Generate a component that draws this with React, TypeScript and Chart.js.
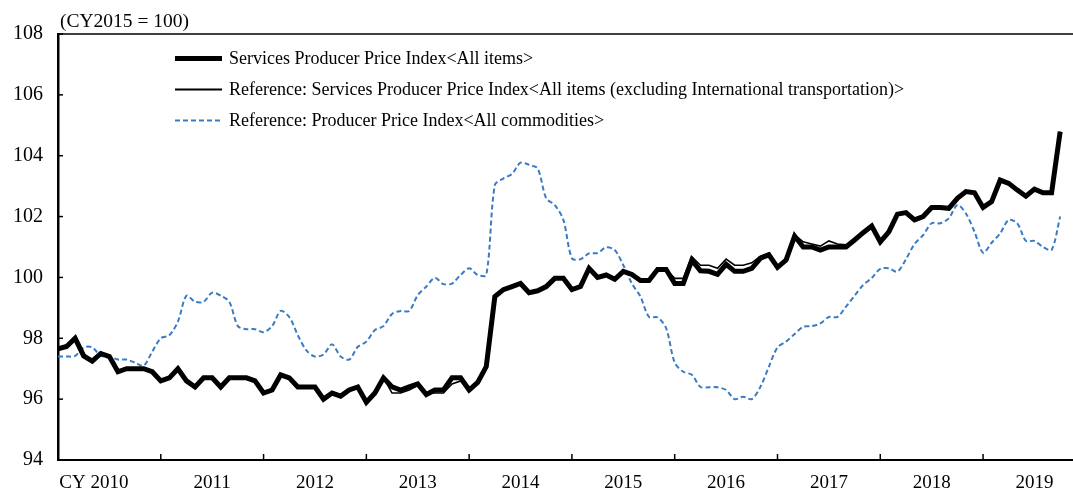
import React, { useEffect, useRef } from "react";
import { Chart, registerables } from "chart.js";

Chart.register(...registerables);

// Monthly data, Jan 2010 .. Oct 2019 (index 0 = Jan 2010)
const sppiAll: number[] = [
  97.65, 97.73, 98.0, 97.42, 97.25, 97.5, 97.4, 96.9, 97.0, 97.0, 97.0, 96.9,
  96.6, 96.7, 97.0, 96.6, 96.4, 96.7, 96.7, 96.4, 96.7, 96.7, 96.7, 96.6,
  96.2, 96.3, 96.8, 96.7, 96.4, 96.4, 96.4, 96.0, 96.2, 96.1, 96.3, 96.4,
  95.9, 96.2, 96.7, 96.4, 96.3, 96.4, 96.5, 96.15, 96.3, 96.3, 96.7, 96.7,
  96.3, 96.55, 97.07, 99.37, 99.6, 99.7, 99.8, 99.5, 99.56, 99.7, 99.97, 99.97,
  99.6, 99.7, 100.3, 100.0, 100.08, 99.94, 100.2, 100.1, 99.9, 99.9, 100.26, 100.26,
  99.8, 99.8, 100.57, 100.22, 100.2, 100.1, 100.43, 100.2, 100.2, 100.3, 100.63, 100.74,
  100.33, 100.57, 101.36, 101.0, 101.0, 100.9, 101.0, 101.0, 101.0, 101.23, 101.47, 101.69,
  101.17, 101.5, 102.08, 102.13, 101.89, 102.0, 102.3, 102.3, 102.27, 102.6, 102.82, 102.78,
  102.3, 102.49, 103.2, 103.09, 102.87, 102.67, 102.9, 102.78, 102.78, 104.79,
];

const sppiExIntl: number[] = [
  97.65, 97.73, 98.0, 97.42, 97.25, 97.5, 97.4, 96.9, 97.0, 97.0, 97.0, 96.9,
  96.6, 96.7, 97.0, 96.6, 96.4, 96.7, 96.7, 96.4, 96.7, 96.7, 96.7, 96.6,
  96.25, 96.3, 96.75, 96.65, 96.4, 96.4, 96.4, 96.0, 96.2, 96.1, 96.3, 96.4,
  95.9, 96.2, 96.7, 96.2, 96.2, 96.3, 96.45, 96.2, 96.2, 96.2, 96.5, 96.6,
  96.3, 96.55, 97.07, 99.37, 99.6, 99.7, 99.8, 99.5, 99.56, 99.7, 99.97, 99.97,
  99.6, 99.7, 100.3, 100.0, 100.08, 99.94, 100.2, 100.1, 99.9, 99.9, 100.26, 100.26,
  99.97, 99.97, 100.68, 100.4, 100.4, 100.3, 100.6, 100.4, 100.4, 100.48, 100.7, 100.8,
  100.37, 100.6, 101.4, 101.17, 101.1, 101.03, 101.2, 101.1, 101.07, 101.25, 101.47, 101.69,
  101.17, 101.5, 102.08, 102.13, 101.89, 102.0, 102.3, 102.3, 102.27, 102.6, 102.82, 102.78,
  102.3, 102.49, 103.2, 103.09, 102.87, 102.67, 102.9, 102.78, 102.78, 104.79,
];

const ppiAll: number[] = [
  97.4, 97.4, 97.42, 97.7, 97.7, 97.42, 97.4, 97.3, 97.3, 97.2, 97.1, 97.56,
  98.0, 98.1, 98.55, 99.4, 99.2, 99.2, 99.5, 99.4, 99.2, 98.4, 98.3, 98.3,
  98.2, 98.4, 98.9, 98.7, 98.1, 97.6, 97.4, 97.47, 97.8, 97.4, 97.3, 97.72,
  97.89, 98.27, 98.4, 98.8, 98.9, 98.9, 99.42, 99.7, 99.99, 99.78, 99.8, 100.08,
  100.3, 100.08, 100.08, 103.04, 103.25, 103.4, 103.77, 103.7, 103.58, 102.6, 102.38, 101.89,
  100.63, 100.6, 100.79, 100.8, 100.99, 100.9, 100.4, 99.8, 99.37, 98.7, 98.69, 98.33,
  97.2, 96.9, 96.8, 96.4, 96.39, 96.39, 96.3, 96.0, 96.08, 96.0, 96.4, 97.07,
  97.7, 97.89, 98.14, 98.38, 98.4, 98.49, 98.7, 98.7, 99.04, 99.4, 99.75, 99.98,
  100.28, 100.3, 100.19, 100.6, 101.1, 101.39, 101.78, 101.78, 101.94, 102.38, 102.1, 101.5,
  100.81, 101.14, 101.45, 101.89, 101.78, 101.2, 101.2, 101.0, 100.9, 102.0,
];

const yearLabels: string[] = ["CY 2010", "2011", "2012", "2013", "2014", "2015", "2016", "2017", "2018", "2019"];
const yTicks: number[] = [94, 96, 98, 100, 102, 104, 106, 108];
const seriesNames: string[] = [
  "Services Producer Price Index<All items>",
  "Reference: Services Producer Price Index<All items (excluding International transportation)>",
  "Reference: Producer Price Index<All commodities>",
];
const unitLabel = "(CY2015 = 100)";

const FONT = '"Liberation Serif", "Times New Roman", serif';
const BLUE = "#3a7cc3";

const toPoints = (arr: number[]) => arr.map((v, i) => ({ x: i, y: v }));

const decorPlugin = {
  id: "decor",
  afterDraw(chart: any) {
    const { ctx, chartArea, scales } = chart;
    const xs = scales.x;
    const ys = scales.y;
    ctx.save();
    // top border
    ctx.strokeStyle = "#000";
    ctx.lineWidth = 1.5;
    ctx.beginPath();
    ctx.moveTo(chartArea.left, chartArea.top);
    ctx.lineTo(chartArea.right, chartArea.top);
    ctx.stroke();
    // y tick marks (inward)
    ctx.lineWidth = 1.5;
    yTicks.forEach((v) => {
      const y = ys.getPixelForValue(v);
      ctx.beginPath();
      ctx.moveTo(chartArea.left, y);
      ctx.lineTo(chartArea.left + 5, y);
      ctx.stroke();
    });
    // x tick marks at year boundaries (inward)
    yearLabels.forEach((_, k) => {
      if (k === 0) return;
      const x = xs.getPixelForValue(12 * k);
      ctx.beginPath();
      ctx.moveTo(x, chartArea.bottom);
      ctx.lineTo(x, chartArea.bottom - 6);
      ctx.stroke();
    });
    // x labels
    ctx.fillStyle = "#000";
    ctx.font = `19px ${FONT}`;
    ctx.textBaseline = "alphabetic";
    yearLabels.forEach((lab, k) => {
      const cx = xs.getPixelForValue(12 * k + 6);
      const parts = lab.split(" ");
      const yr = parts[parts.length - 1];
      const w = ctx.measureText(yr).width;
      ctx.textAlign = "left";
      if (parts.length > 1) {
        const pre = parts.slice(0, -1).join(" ") + " ";
        const wp = ctx.measureText(pre).width;
        ctx.fillText(pre, cx - w / 2 - wp, 488);
      }
      ctx.fillText(yr, cx - w / 2, 488);
    });
    // unit label
    ctx.font = `19.5px ${FONT}`;
    ctx.textAlign = "left";
    ctx.fillText(unitLabel, 60, 27);
    // legend
    const rows = [58.5, 89.5, 120.5];
    ctx.font = `18px ${FONT}`;
    ctx.textBaseline = "middle";
    seriesNames.forEach((name, i) => {
      const y = rows[i];
      ctx.beginPath();
      if (i === 0) {
        ctx.strokeStyle = "#000";
        ctx.lineWidth = 5;
        ctx.setLineDash([]);
      } else if (i === 1) {
        ctx.strokeStyle = "#000";
        ctx.lineWidth = 1.8;
        ctx.setLineDash([]);
      } else {
        ctx.strokeStyle = BLUE;
        ctx.lineWidth = 1.8;
        ctx.setLineDash([5, 3]);
      }
      ctx.moveTo(175, y);
      ctx.lineTo(222, y);
      ctx.stroke();
      ctx.setLineDash([]);
      ctx.fillStyle = "#000";
      ctx.fillText(name, 229, y + 1);
    });
    ctx.restore();
  },
};

export default function App() {
  const ref = useRef<HTMLCanvasElement | null>(null);
  useEffect(() => {
    if (!ref.current) return;
    const chart = new Chart(ref.current, {
      type: "line",
      data: {
        datasets: [
          {
            label: seriesNames[0],
            data: toPoints(sppiAll),
            borderColor: "#000",
            borderWidth: 5,
            pointRadius: 0,
            tension: 0,
          },
          {
            label: seriesNames[1],
            data: toPoints(sppiExIntl),
            borderColor: "#000",
            borderWidth: 1.6,
            pointRadius: 0,
            tension: 0,
          },
          {
            label: seriesNames[2],
            data: toPoints(ppiAll),
            borderColor: BLUE,
            borderWidth: 2,
            borderDash: [5, 3],
            pointRadius: 0,
            tension: 0.3,
          },
        ],
      },
      options: {
        animation: false,
        responsive: true,
        maintainAspectRatio: false,
        layout: { padding: { top: 34, left: 0, right: 0, bottom: 0 } },
        plugins: { legend: { display: false }, tooltip: { enabled: false } },
        scales: {
          x: {
            type: "linear",
            min: 0,
            max: 118.5,
            grid: { display: false, drawTicks: false },
            border: { display: true, color: "#000", width: 2 },
            ticks: { display: false },
            afterFit: (s: any) => {
              s.height = 31;
            },
          },
          y: {
            min: 94,
            max: 108,
            grid: { display: false, drawTicks: false },
            border: { display: true, color: "#000", width: 2.5 },
            afterBuildTicks: (s: any) => {
              s.ticks = yTicks.map((v) => ({ value: v }));
            },
            ticks: {
              color: "#000",
              font: { family: FONT, size: 20 },
              padding: 15,
            },
            afterFit: (s: any) => {
              s.width = 58;
            },
          },
        },
      },
      plugins: [decorPlugin],
    });
    return () => chart.destroy();
  }, []);
  return (
    <div style={{ position: "absolute", left: 0, top: 0, width: 1073, height: 491, background: "#fff" }}>
      <canvas ref={ref} />
    </div>
  );
}
